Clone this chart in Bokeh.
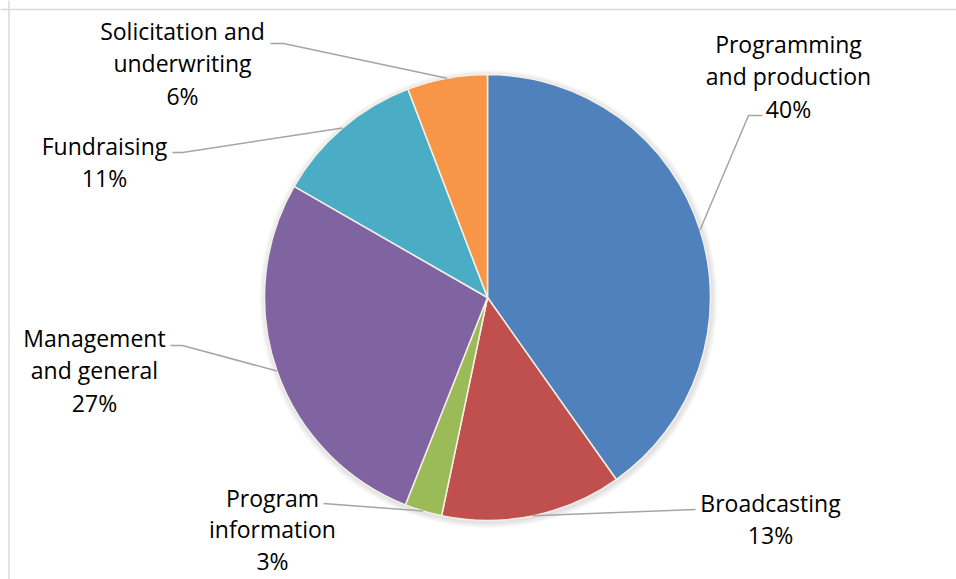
import math
from bokeh.plotting import figure
from bokeh.models import Range1d, Span
from bokeh.core.properties import value
from bokeh.embed import file_html
from bokeh.resources import INLINE

# ---- data ----
categories = ["Programming and production", "Broadcasting", "Program information",
              "Management and general", "Fundraising", "Solicitation and underwriting"]
shares = [40.2, 13.1, 2.7, 27.3, 10.9, 5.8]
colors = ["#4F81BD", "#C0504D", "#9BBB59", "#8064A2", "#4BACC6", "#F79646"]

# ---- layout (page pixels) ----
W, H = 956, 579
def X(px): return px
def Y(py): return H - py

CX, CY, R = X(487), Y(297), 223
label_lines = [["Programming", "and production"], ["Broadcasting"], ["Program", "information"],
               ["Management", "and general"], ["Fundraising"], ["Solicitation and", "underwriting"]]
label_pos = [(788, 43), (770, 502), (272, 497), (94, 337), (104, 145), (182, 30)]  # center x, first line y
line_steps = [32.5, 32.5, 31.5, 32.5, 32.5, 32.5]
leader_pts = [[(762, 115), (748, 115)], [(695, 509)], [(323, 503)],
              [(170, 345), (182, 345)], [(172, 152), (182, 152)], [(270, 43), (283, 43)]]

p = figure(width=W, height=H, output_backend="svg", toolbar_location=None,
           x_range=Range1d(0, W), y_range=Range1d(0, H), min_border=0,
           x_axis_type=None, y_axis_type=None)
p.grid.visible = False
p.outline_line_color = None
p.background_fill_color = "white"
p.border_fill_color = "white"
p.add_layout(Span(location=Y(9), dimension="width", line_color="#d9d9d9", line_width=1.5))
p.add_layout(Span(location=X(8.5), dimension="height", line_color="#d9d9d9", line_width=1.5))

# soft shadow
for k in range(6, 0, -1):
    p.circle(x=[CX + 1], y=[CY - 1.5], radius=R + k, fill_color="#7f7f7f",
             fill_alpha=0.035, line_color=None)

total = sum(shares)
cum = 0.0
for i, (cat, s, c) in enumerate(zip(categories, shares, colors)):
    a0 = cum / total * 2 * math.pi
    cum += s
    a1 = cum / total * 2 * math.pi
    p.wedge(x=[CX], y=[CY], radius=R, start_angle=math.pi / 2 - a1, end_angle=math.pi / 2 - a0,
            fill_color=c, line_color="#f5f0e6", line_width=1.5)
    mid = (a0 + a1) / 2
    ex = CX + R * math.sin(mid)
    ey = CY + R * math.cos(mid)
    pts = leader_pts[i]
    xs = [X(px) for px, py in pts] + [ex]
    ys = [Y(py) for px, py in pts] + [ey]
    p.line(xs, ys, line_color="#a5a5a5", line_width=1.5)
    lines = label_lines[i] + [f"{round(s)}%"]
    lx, ly = label_pos[i]
    for j, t in enumerate(lines):
        p.text(x=[X(lx)], y=[Y(ly + j * line_steps[i])], text=[t], text_align="center",
               text_baseline="alphabetic", text_font=value("Open Sans"),
               text_font_size="23px", text_color="#000000")

open("out.html", "w").write(file_html(p, INLINE))
